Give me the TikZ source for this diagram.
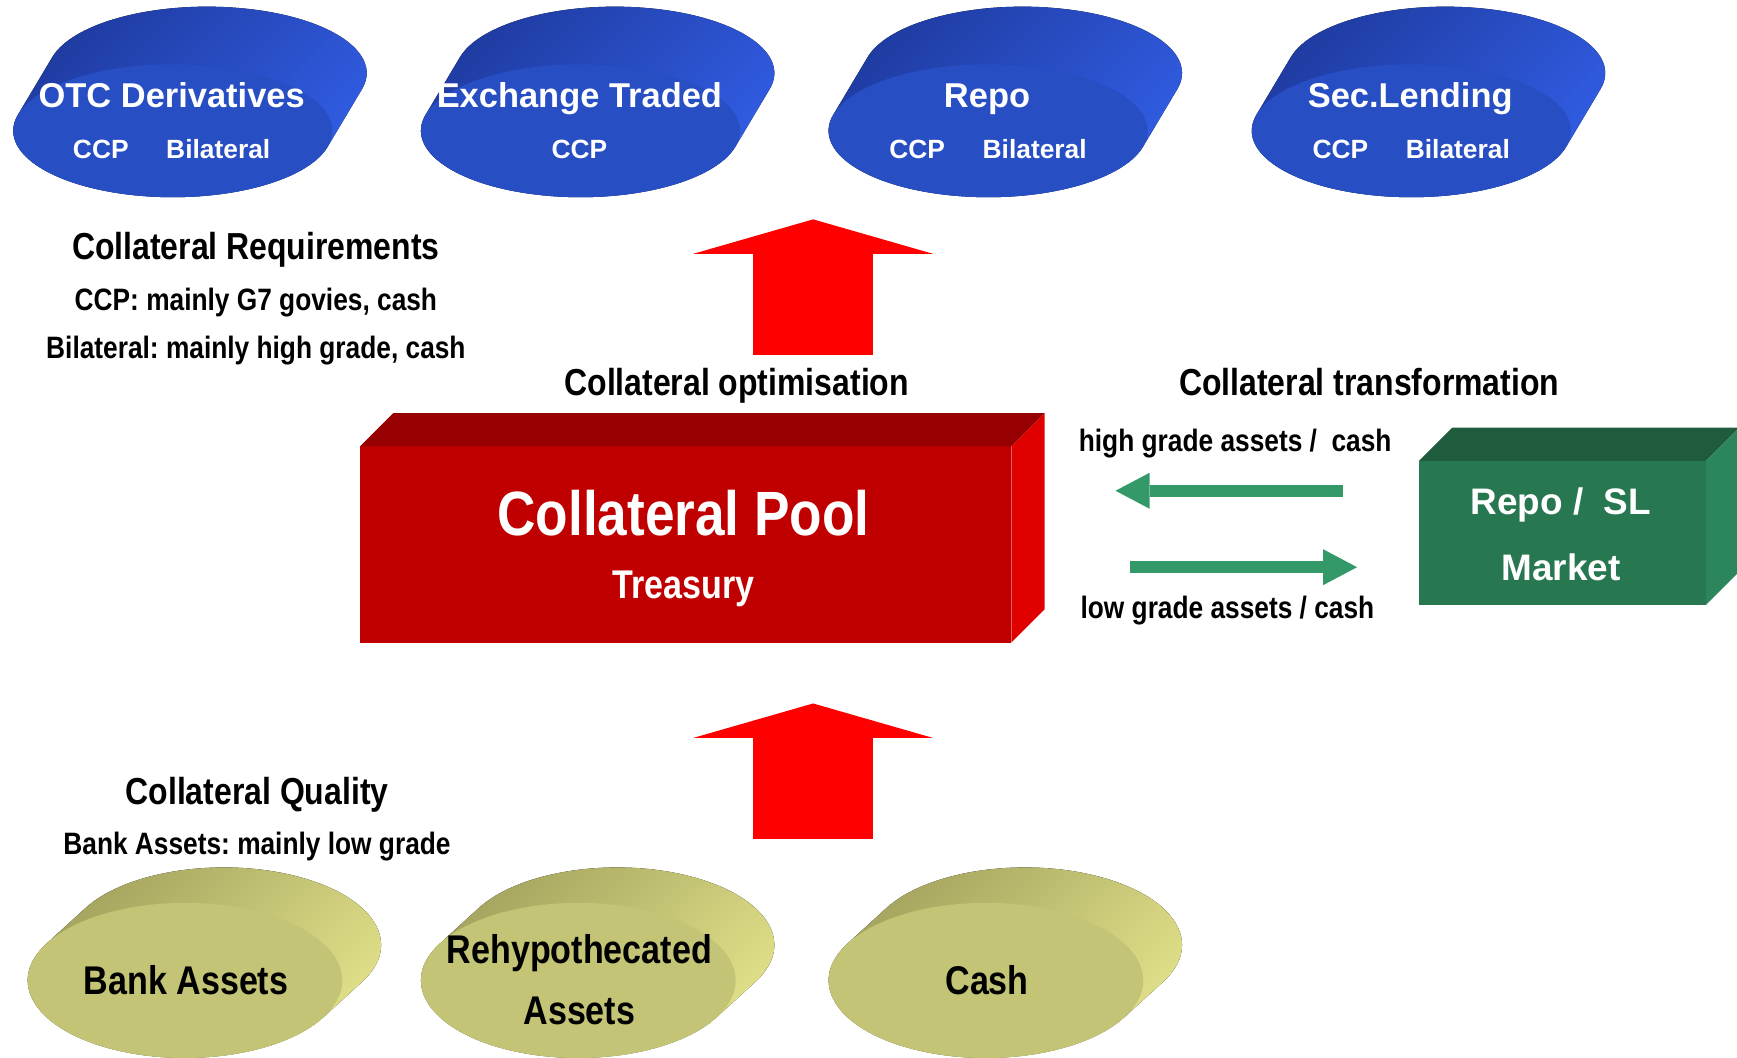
\documentclass[tikz,border=0pt]{standalone}
\usepackage{fontspec}
\setmainfont{Liberation Sans}
\newfontfamily\narrowsf[FakeStretch=0.85]{Liberation Sans}
\usetikzlibrary{shapes.geometric,arrows.meta,calc}
\frenchspacing

\definecolor{bluefront}{RGB}{40,78,196}
\definecolor{blueback}{RGB}{30,58,158}
\definecolor{blueside}{RGB}{50,94,230}
\definecolor{olivefront}{RGB}{196,196,118}
\definecolor{oliveback}{RGB}{160,160,92}
\definecolor{oliveside}{RGB}{228,228,140}
\definecolor{poolfront}{RGB}{192,0,0}
\definecolor{pooltop}{RGB}{150,0,0}
\definecolor{poolside}{RGB}{224,0,0}
\definecolor{mktfront}{RGB}{39,119,80}
\definecolor{mkttop}{RGB}{31,92,62}
\definecolor{mktside}{RGB}{43,134,92}
\definecolor{flowgreen}{RGB}{52,153,104}

\begin{document}
\begin{tikzpicture}[x=0.01108cm, y=0.01108cm]
\def \u {0.01108cm}
   \tikzset{disktitle/.style = {text = white, font = \bfseries\fontsize{9.8}{11}\selectfont, anchor = base},
            disksub/.style = {text = white, font = \bfseries\fontsize{7.5}{9}\selectfont, anchor = base},
            heading/.style = {font = \narrowsf\bfseries\fontsize{10.7}{12}\selectfont, anchor = base},
            note/.style = {font = \narrowsf\bfseries\fontsize{8.8}{10}\selectfont, anchor = base},
            assetlabel/.style = {font = \narrowsf\bfseries\fontsize{11.4}{13}\selectfont, anchor = base},
            boxlabel/.style = {text = white, font = \bfseries\fontsize{10.5}{12}\selectfont, anchor = base},
            optarrow/.style = {draw = red, line width = 1.197cm, -{Triangle[length=0.344cm, width=2.393cm, line width=0pt]}},
            flowarrow/.style = {draw = flowgreen, line width = 0.122cm, -{Triangle[length=0.34cm, width=0.36cm, line width=0pt]}}}
\useasboundingbox (0,0) rectangle (1568,-955);

% disk: back face, rim, front face
\def \coin #1#2#3{%
   \fill[top color = #3back, bottom color = #3side, shading angle = 45]
      ($#2+(\cdx,\cdy)$) ++({\ca*cos(\ct)},{\cb*sin(\ct)})
      arc[start angle = \ct, end angle = \ct+180, x radius = \ca, y radius = \cb]
      -- ++(-\cdx,-\cdy)
      arc[start angle = \ct+180, end angle = \ct+360, x radius = \ca, y radius = \cb] -- cycle;
   \node[ellipse, fill = #3front, inner sep = 0pt, outer sep = 0pt,
         minimum width = 2*\ca*\u, minimum height = 2*\cb*\u] (#1) at #2 {};}

%% transactions
\def \ca {144}\def \cb {60}\def \cdx {31}\def \cdy {52}\def \ct {-13.9}
   \coin{otc}{(156,-118)}{blue}
   \coin{exch}{(524,-118)}{blue}
   \coin{repo}{(892,-118)}{blue}
   \coin{seclend}{(1274,-118)}{blue}

   \node[disktitle] (otcname) at (155,-97) {OTC Derivatives};
   \node[disksub] (otcccp) at (91,-143) {CCP};
   \node[disksub] (otcbil) at (197,-143) {Bilateral};
   \node[disktitle] (exchname) at (523,-97) {Exchange Traded};
   \node[disksub] (exchccp) at (523,-143) {CCP};
   \node[disktitle] (reponame) at (891,-97) {Repo};
   \node[disksub] (repoccp) at (828,-143) {CCP};
   \node[disksub] (repobil) at (934,-143) {Bilateral};
   \node[disktitle] (slname) at (1273,-97) {Sec.Lending};
   \node[disksub] (slccp) at (1210,-143) {CCP};
   \node[disksub] (slbil) at (1316,-143) {Bilateral};

   \node[heading] (reqhead) at (231,-234) {Collateral Requirements};
   \node[note] (reqccp) at (231,-280) {CCP: mainly G7 govies, cash};
   \node[note] (reqbil) at (231,-324) {Bilateral: mainly high grade, cash};

%% pool
   \coordinate (opttail) at (734,-320);
   \coordinate (opttip) at (734,-198);
   \draw[optarrow] (opttail) -- (opttip);
   \node[heading] (opthead) at (665,-357) {Collateral optimisation};

   \node[fill = poolfront, inner sep = 0pt, outer sep = 0pt,
         minimum width = 588*\u, minimum height = 177*\u] (pool) at (619,-491.5) {};
   \fill[pooltop] (pool.north west) -- ++(30,30) -- ($(pool.north east)+(30,30)$) -- (pool.north east) -- cycle;
   \fill[poolside] (pool.north east) -- ++(30,30) -- ($(pool.south east)+(30,30)$) -- (pool.south east) -- cycle;
   \node[text = white, font = \narrowsf\bfseries\fontsize{17.8}{20}\selectfont, anchor = base] (pooltitle) at (617,-483) {Collateral Pool};
   \node[text = white, font = \narrowsf\bfseries\fontsize{11.4}{13}\selectfont, anchor = base] (pooltreasury) at (617,-540) {Treasury};

%% market
   \node[heading] (transhead) at (1236,-357) {Collateral transformation};
   \node[fill = mktfront, inner sep = 0pt, outer sep = 0pt,
         minimum width = 259*\u, minimum height = 130*\u] (market) at (1410.5,-481) {};
   \fill[mkttop] (market.north west) -- ++(30,30) -- ($(market.north east)+(30,30)$) -- (market.north east) -- cycle;
   \fill[mktside] (market.north east) -- ++(30,30) -- ($(market.south east)+(30,30)$) -- (market.south east) -- cycle;
   \node[boxlabel] (mktrepo) at (1409,-464) {Repo /~ SL};
   \node[boxlabel] (mktname) at (1409,-524) {Market};

   \coordinate (hgtail) at (1212,-443);
   \coordinate (hgtip) at (1007,-443);
   \draw[flowarrow] (hgtail) -- (hgtip);
   \coordinate (lgtail) at (1020,-512);
   \coordinate (lgtip) at (1225,-512);
   \draw[flowarrow] (lgtail) -- (lgtip);
   \node[note] (hglabel) at (1115,-408) {high grade assets /~ cash};
   \node[note] (lglabel) at (1108,-558) {low grade assets / cash};

%% assets
   \coordinate (intail) at (734,-757);
   \coordinate (intip) at (734,-635);
   \draw[optarrow] (intail) -- (intip);

   \node[heading] (qualhead) at (232,-726) {Collateral Quality};
   \node[note] (qualbank) at (232,-771) {Bank Assets: mainly low grade};

\def \ca {142}\def \cb {70}\def \cdx {35}\def \cdy {32}\def \ct {-28.3}
   \coin{bank}{(167,-885)}{olive}
   \coin{rehyp}{(522,-885)}{olive}
   \coin{cash}{(890,-885)}{olive}

   \node[assetlabel] (bankname) at (168,-898) {Bank Assets};
   \node[assetlabel] (rehypname) at (523,-870) {Rehypothecated};
   \node[assetlabel] (rehypassets) at (523,-925) {Assets};
   \node[assetlabel] (cashname) at (891,-898) {Cash};
\end{tikzpicture}
\end{document}
